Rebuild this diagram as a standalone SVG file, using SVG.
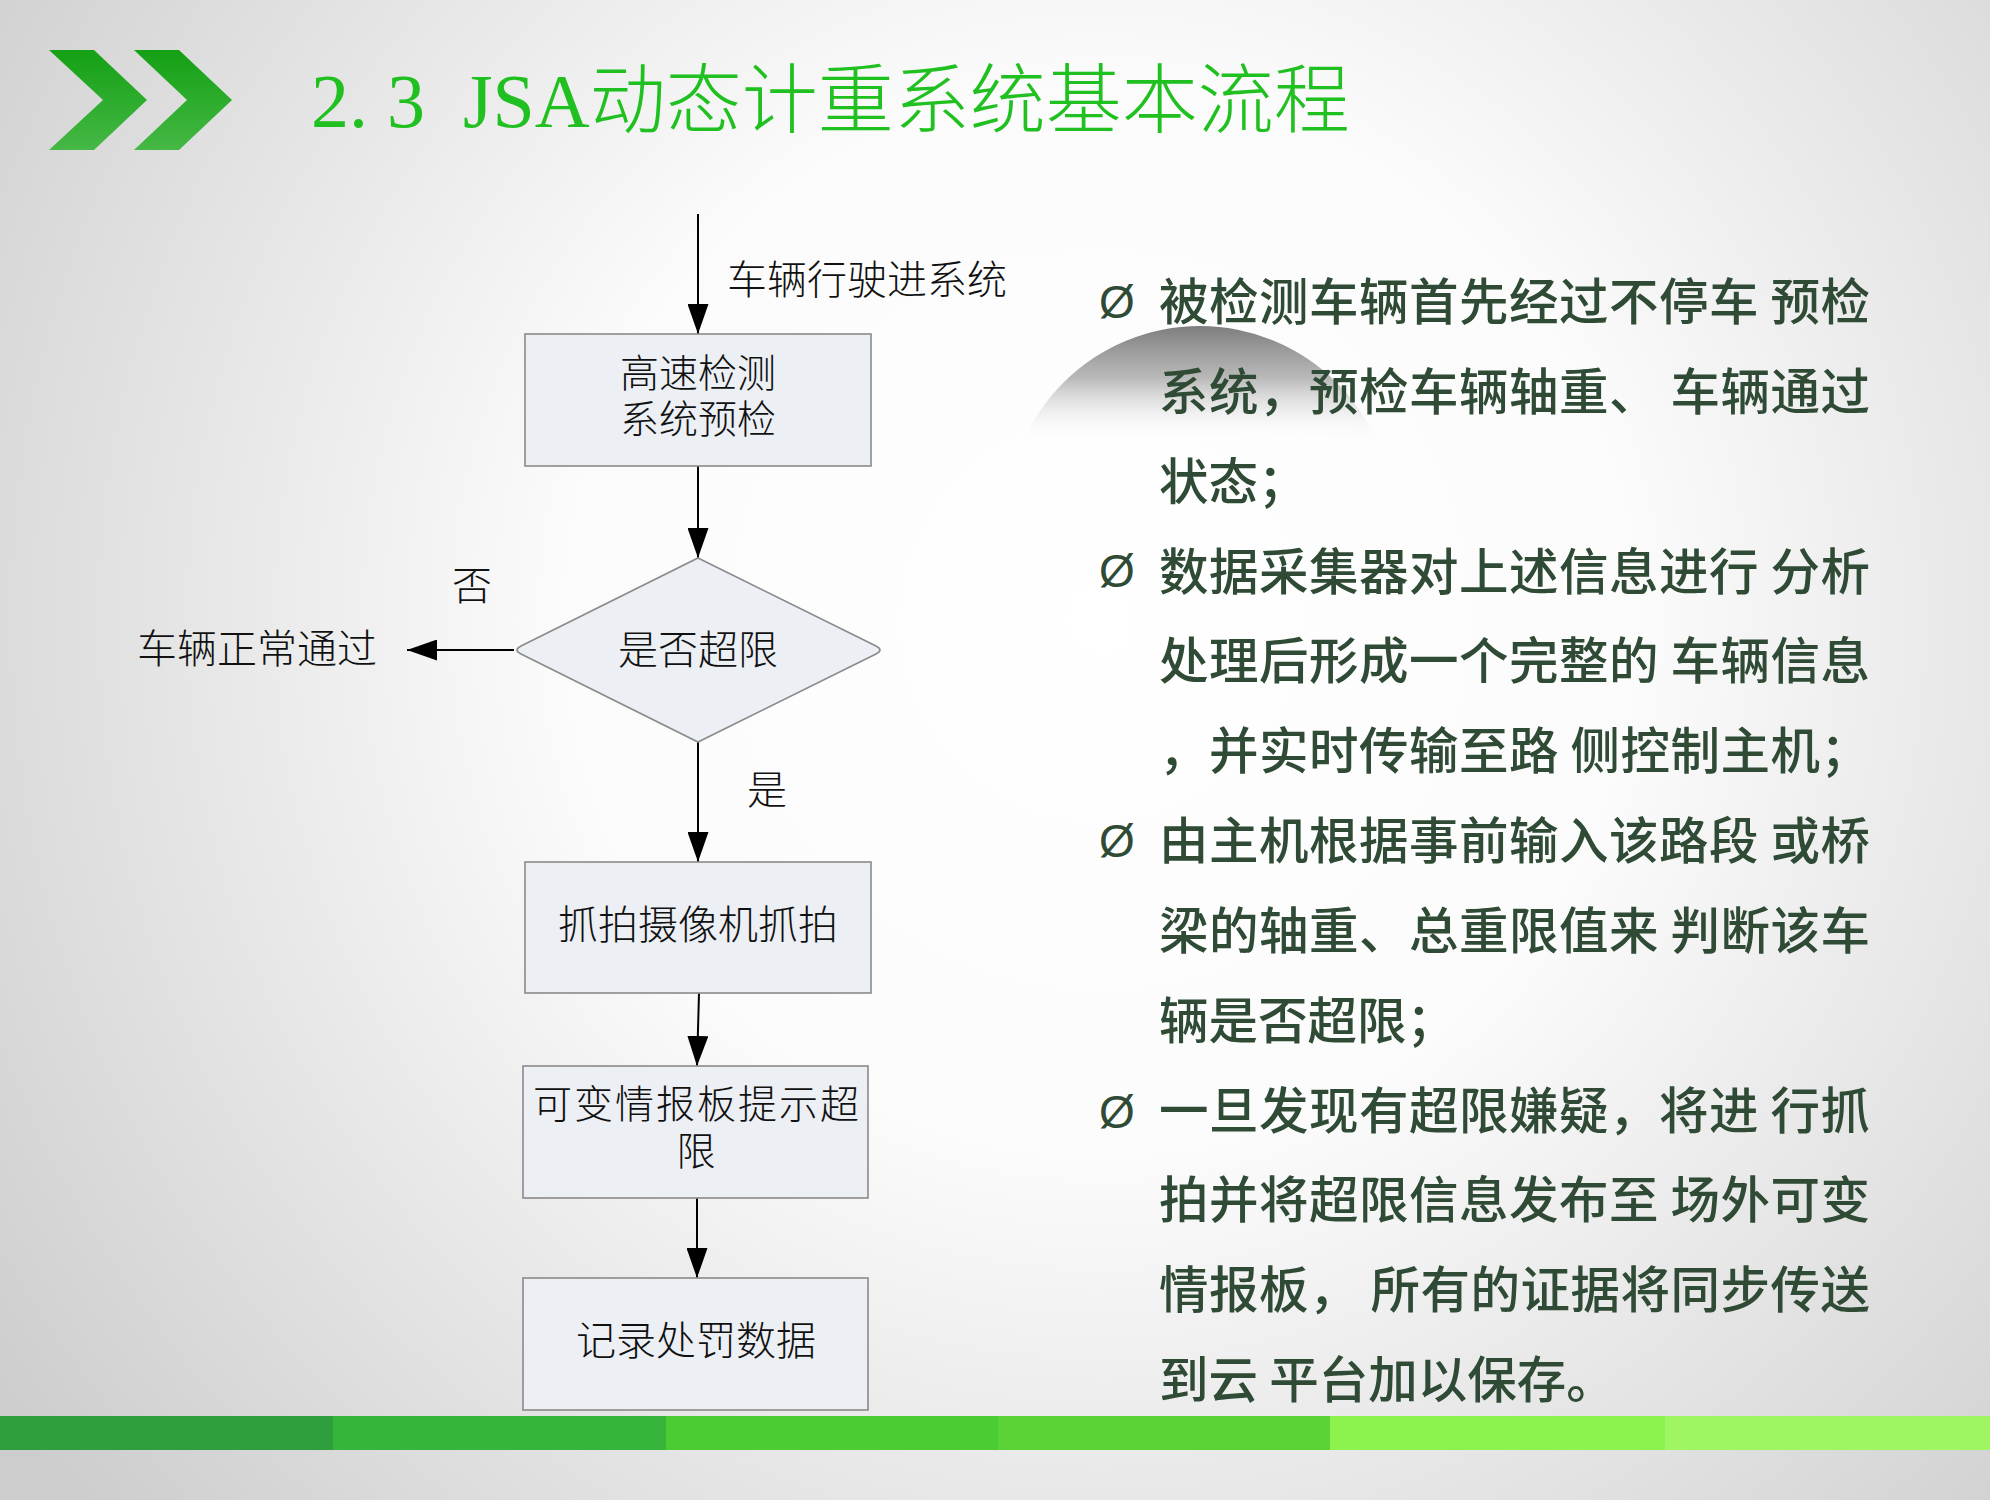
<svg xmlns="http://www.w3.org/2000/svg" width="1990" height="1500" viewBox="0 0 1990 1500">
<defs>
<radialGradient id="bg" cx="1100" cy="620" r="1350" gradientUnits="userSpaceOnUse">
<stop offset="0" stop-color="#ffffff"/>
<stop offset="0.4" stop-color="#fbfbfb"/>
<stop offset="1" stop-color="#cdcdcd"/>
</radialGradient>
<linearGradient id="chev" x1="0" y1="0" x2="0" y2="1">
<stop offset="0" stop-color="#14a014"/>
<stop offset="1" stop-color="#45b845"/>
</linearGradient>
<linearGradient id="dome" x1="0" y1="326" x2="0" y2="442" gradientUnits="userSpaceOnUse">
<stop offset="0" stop-color="#7d7d7d" stop-opacity="1"/>
<stop offset="0.45" stop-color="#a8a8a8" stop-opacity="0.8"/>
<stop offset="1" stop-color="#ffffff" stop-opacity="0"/>
</linearGradient>
<marker id="ah" markerUnits="userSpaceOnUse" markerWidth="30" markerHeight="21" refX="30" refY="10.5" orient="auto">
<path d="M0,0 L30,10.5 L0,21 Z" fill="#000"/>
</marker>
<style>
.box{fill:#eceff4;stroke:#8a8a8a;stroke-width:1.6}
.ft{font-family:"Noto Sans CJK SC","Noto Sans CJK JP",sans-serif;font-weight:300;font-size:40px;fill:#111;text-anchor:middle}
.ft2{font-family:"Liberation Serif","Noto Sans CJK SC","Noto Sans CJK JP",sans-serif;font-weight:300;font-size:39px;fill:#111;text-anchor:middle}
.lb{font-family:"Noto Sans CJK SC","Noto Sans CJK JP",sans-serif;font-weight:300;font-size:40px;fill:#111}
.con{stroke:#000;stroke-width:2;fill:none}
.rt{font-family:"Noto Sans CJK SC","Noto Sans CJK JP",sans-serif;font-weight:500;font-size:49.5px;fill:#2f4a35}
.bul{font-family:"Liberation Sans",sans-serif;font-size:46px;fill:#2f4a35}
</style>
</defs>
<rect x="0" y="0" width="1990" height="1500" fill="url(#bg)"/>
<circle cx="1200" cy="519" r="193" fill="url(#dome)"/>
<g id="header">
<polygon points="49,50 94,50 147,100 94,150 49,150 103,100" fill="url(#chev)"/>
<polygon points="134,50 179,50 232,100 179,150 134,150 187,100" fill="url(#chev)"/>
<text x="311" y="127" font-family="'Liberation Serif','Noto Sans CJK SC',serif" font-weight="300" font-size="76" fill="#20c020">2. 3&#160; JSA动态计重系统基本流程</text>
</g>
<g id="bottom-bar">
<rect x="0" y="1416" width="333" height="34" fill="#2e9f3c"/>
<rect x="333" y="1416" width="333" height="34" fill="#37b43a"/>
<rect x="666" y="1416" width="332" height="34" fill="#4acc32"/>
<rect x="998" y="1416" width="332" height="34" fill="#5bd236"/>
<rect x="1330" y="1416" width="335" height="34" fill="#8cf24e"/>
<rect x="1665" y="1416" width="325" height="34" fill="#a0f562"/>
</g>
<g id="connectors">
<line class="con" x1="698" y1="214" x2="698" y2="334" marker-end="url(#ah)"/>
<line class="con" x1="698" y1="466" x2="698" y2="558" marker-end="url(#ah)"/>
<line class="con" x1="514" y1="650" x2="407" y2="650" stroke-width="2.6" marker-end="url(#ah)"/>
<line class="con" x1="698" y1="742" x2="698" y2="862" marker-end="url(#ah)"/>
<line class="con" x1="699" y1="993" x2="697" y2="1066" marker-end="url(#ah)"/>
<line class="con" x1="697" y1="1198" x2="697" y2="1278" marker-end="url(#ah)"/>
<text class="lb" x="727" y="294">车辆行驶进系统</text>
<text class="lb" x="452" y="600">否</text>
<text class="lb" x="137" y="663">车辆正常通过</text>
<text class="lb" x="747" y="804">是</text>
</g>
<g id="n1">
<rect class="box" x="525" y="334" width="346" height="132"/>
<text class="ft2" x="698" y="387">高速检测</text>
<text class="ft2" x="698" y="433">系统预检</text>
</g>
<g id="n2">
<path class="box" d="M698,558 L876,646 Q884,650 876,654 L698,742 L521,654 Q513,650 521,646 Z"/>
<text class="ft" x="698" y="664">是否超限</text>
</g>
<g id="n3">
<rect class="box" x="525" y="862" width="346" height="131"/>
<text class="ft" x="698" y="939">抓拍摄像机抓拍</text>
</g>
<g id="n4">
<rect class="box" x="523" y="1066" width="345" height="132"/>
<text class="ft2" x="696" y="1118" textLength="326">可变情报板提示超</text>
<text class="ft2" x="696" y="1165">限</text>
</g>
<g id="n5">
<rect class="box" x="523" y="1278" width="345" height="132"/>
<text class="ft" x="696" y="1355">记录处罚数据</text>
</g>
<g id="bullets">
<text class="bul" x="1099" y="318">Ø</text>
<text class="bul" x="1099" y="587">Ø</text>
<text class="bul" x="1099" y="857">Ø</text>
<text class="bul" x="1099" y="1128">Ø</text>
<text class="rt" x="1159" y="320" textLength="711">被检测车辆首先经过不停车 预检</text>
<text class="rt" x="1159" y="410" textLength="711">系统，预检车辆轴重、 车辆通过</text>
<text class="rt" x="1159" y="500">状态；</text>
<text class="rt" x="1159" y="590" textLength="711">数据采集器对上述信息进行 分析</text>
<text class="rt" x="1159" y="679" textLength="711">处理后形成一个完整的 车辆信息</text>
<text class="rt" x="1159" y="769" textLength="711">，并实时传输至路 侧控制主机；</text>
<text class="rt" x="1159" y="859" textLength="711">由主机根据事前输入该路段 或桥</text>
<text class="rt" x="1159" y="949" textLength="711">梁的轴重、总重限值来 判断该车</text>
<text class="rt" x="1159" y="1039">辆是否超限；</text>
<text class="rt" x="1159" y="1129" textLength="711">一旦发现有超限嫌疑，将进 行抓</text>
<text class="rt" x="1159" y="1218" textLength="711">拍并将超限信息发布至 场外可变</text>
<text class="rt" x="1159" y="1308" textLength="711">情报板， 所有的证据将同步传送</text>
<text class="rt" x="1159" y="1398">到云 平台加以保存。</text>
</g>
</svg>
